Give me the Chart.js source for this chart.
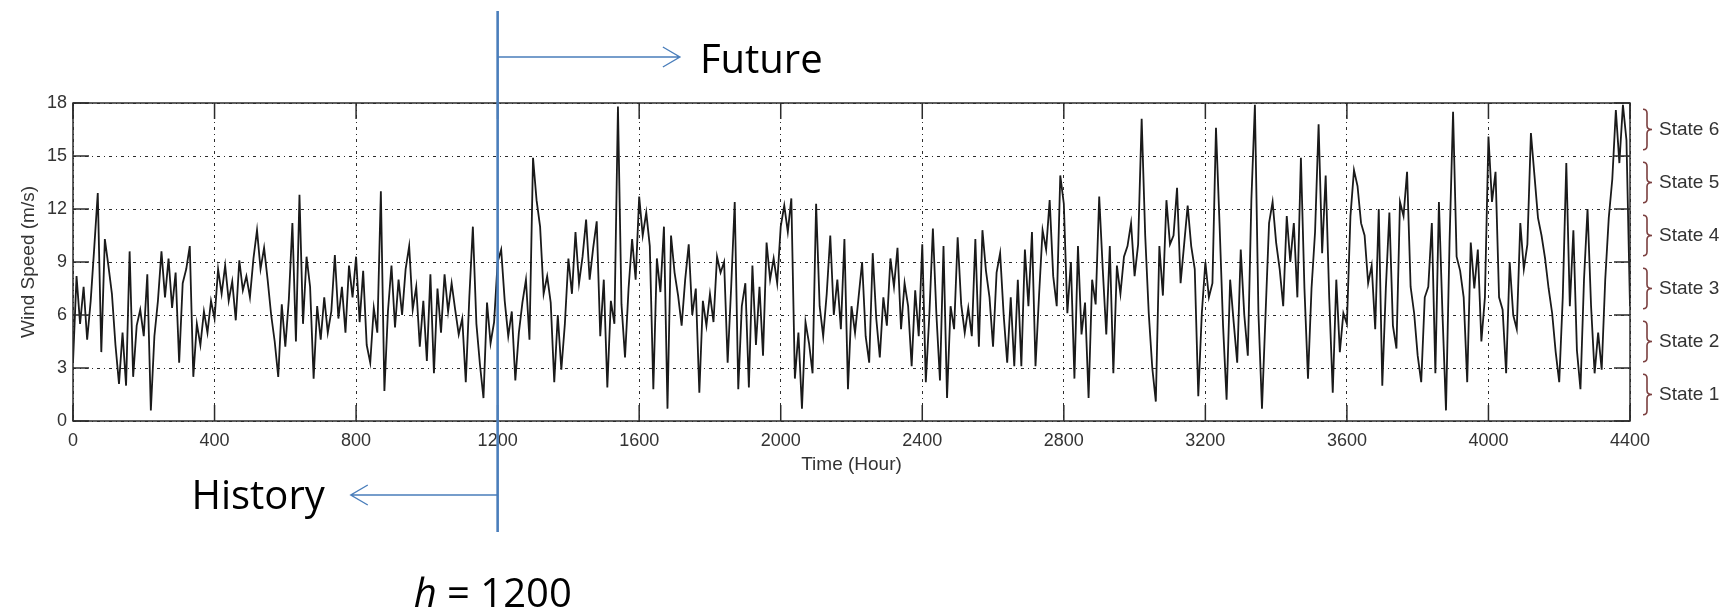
<!DOCTYPE html>
<html>
<head>
<meta charset="utf-8">
<script src="https://cdn.jsdelivr.net/npm/chart.js@4.4.1/dist/chart.umd.min.js"></script>
<style>
	html, body { margin: 0; padding: 0; background: #fff; }
	canvas { display: block; }
</style>
</head>
<body>
<canvas id="chart" width="1735" height="610"></canvas>
<script>
// hourly wind speed, every 10 hours
const sampleStep = 10;

const speedA = [ // 0 - 1090 h
	3.3, 8.2, 5.5, 7.6, 4.6, 6.8, 9.8, 12.9, 3.9, 10.3,
	8.8, 7.2, 4.3, 2.1, 5.0, 2.0, 9.6, 2.5, 5.4, 6.3,
	4.8, 8.3, 0.6, 4.8, 6.8, 9.6, 7.0, 9.2, 6.4, 8.4,
	3.3, 7.8, 8.6, 9.9, 2.5, 5.5, 4.3, 6.2, 5.0, 6.8,
	5.8, 8.6, 7.2, 8.8, 6.8, 7.9, 5.7, 9.1, 7.4, 8.2,
	7.0, 9.2, 10.8, 8.6, 9.8, 8.0, 6.0, 4.5, 2.5, 6.6,
	4.2, 6.9, 11.2, 4.5, 12.8, 5.5, 9.3, 7.6, 2.4, 6.5,
	4.6, 7.0, 5.0, 6.2, 9.4, 5.8, 7.6, 5.0, 8.8, 7.0,
	9.3, 5.6, 8.5, 4.3, 3.3, 6.4, 5.0, 13.0, 1.7, 6.2,
	8.8, 5.3, 8.0, 6.0, 8.6, 9.9, 6.3, 7.6, 4.2, 6.8,
	3.4, 8.3, 2.7, 7.5, 5.0, 8.3, 6.2, 7.8, 6.3, 4.9,
];

const speedB = [ // 1100 - 2190 h
	5.8, 2.2, 7.0, 11.0, 5.5, 3.2, 1.3, 6.7, 4.4, 5.6,
	9.0, 9.7, 6.8, 4.8, 6.2, 2.3, 5.0, 6.7, 8.0, 4.6,
	14.9, 12.5, 11.0, 7.2, 8.2, 6.7, 2.2, 6.0, 2.9, 5.5,
	9.2, 7.2, 10.7, 7.8, 9.3, 11.4, 8.0, 9.8, 11.3, 4.8,
	8.0, 1.9, 6.8, 5.5, 17.8, 6.6, 3.6, 7.5, 10.3, 8.0,
	12.7, 10.5, 11.8, 9.9, 1.8, 9.2, 7.3, 11.0, 0.7, 10.5,
	8.4, 7.1, 5.4, 8.0, 10.0, 6.0, 7.5, 1.6, 6.8, 5.4,
	7.2, 5.6, 9.3, 8.4, 9.0, 3.3, 7.6, 12.4, 1.8, 6.5,
	7.8, 1.9, 8.8, 4.3, 7.6, 3.7, 10.1, 8.0, 9.2, 7.8,
	11.0, 12.2, 10.7, 12.6, 2.4, 5.0, 0.7, 5.6, 4.4, 2.7,
	12.3, 6.5, 4.8, 7.2, 10.5, 6.0, 8.0, 5.2, 10.3, 1.8,
];

const speedC = [ // 2200 - 3290 h
	6.5, 5.0, 7.0, 9.0, 4.8, 3.3, 9.5, 5.8, 3.6, 7.0,
	5.4, 9.2, 7.6, 9.8, 5.2, 7.8, 6.5, 3.1, 7.4, 4.8,
	10.0, 2.2, 6.0, 10.9, 6.0, 2.3, 9.9, 1.3, 6.5, 5.2,
	10.4, 6.6, 5.0, 6.4, 4.8, 10.3, 4.2, 10.8, 8.5, 7.0,
	4.2, 8.4, 9.5, 6.0, 3.3, 7.0, 3.1, 8.0, 3.1, 9.7,
	6.5, 10.7, 3.1, 7.1, 10.8, 9.7, 12.5, 8.2, 6.5, 13.9,
	12.3, 6.1, 9.0, 2.4, 9.9, 4.9, 6.7, 1.3, 8.0, 6.6,
	12.7, 8.6, 4.9, 9.9, 2.7, 8.8, 7.2, 9.3, 9.9, 11.2,
	8.2, 10.0, 17.1, 10.5, 6.1, 3.0, 1.1, 9.9, 7.1, 12.5,
	10.0, 10.5, 13.2, 7.8, 10.0, 12.2, 9.9, 8.6, 1.4, 6.1,
	9.0, 7.0, 7.8, 16.6, 11.2, 5.4, 1.2, 8.0, 5.6, 3.3,
];

const speedD = [ // 3300 - 4400 h
	9.7, 6.0, 3.7, 12.5, 17.9, 6.1, 0.7, 6.0, 11.2, 12.4,
	10.1, 8.6, 6.5, 11.6, 9.0, 11.2, 7.0, 14.9, 7.5, 2.4,
	7.5, 10.7, 16.8, 9.5, 13.9, 7.0, 1.6, 8.0, 3.9, 6.1,
	5.5, 11.6, 14.2, 13.3, 11.2, 10.5, 7.8, 8.8, 5.2, 12.0,
	2.0, 7.5, 11.8, 5.4, 4.1, 12.4, 11.6, 14.1, 7.6, 6.1,
	3.7, 2.2, 7.0, 7.6, 11.2, 2.7, 12.4, 6.1, 0.6, 10.1,
	17.5, 9.3, 8.5, 7.0, 2.2, 10.1, 7.5, 9.7, 4.5, 7.0,
	16.1, 12.4, 14.1, 7.0, 6.3, 2.7, 9.0, 6.0, 5.2, 11.2,
	8.6, 10.0, 16.3, 13.9, 11.5, 10.5, 9.2, 7.5, 6.1, 3.9,
	2.2, 7.0, 14.6, 6.5, 10.8, 4.0, 1.8, 8.0, 12.0, 6.5,
	2.7, 5.0, 2.9, 8.0, 11.5, 13.7, 17.6, 14.6, 17.9, 15.9,
	6.5,
];

const xTicks = [0, 400, 800, 1200, 1600, 2000, 2400, 2800, 3200, 3600, 4000, 4400];
const yTicks = [0, 3, 6, 9, 12, 15, 18];
const stateLabels = ['State 1', 'State 2', 'State 3', 'State 4', 'State 5', 'State 6'];

const splitHour = 1200;
const futureArrowEnd = 1715;
const historyArrowEnd = 785;

const tickLen = 16;
const blue = '#4a7ebb';
const braceColor = '#7b3f3f';
const labelColor = '#333';

function getPoints() {
	const speeds = [...speedA, ...speedB, ...speedC, ...speedD];
	return speeds.map((speed, index) => ({ x: index * sampleStep, y: speed }));
}

const matlabFrame = {
	id: 'matlabFrame',
	afterDatasetsDraw(chart) {
		const { ctx, chartArea: area, scales } = chart;
		ctx.save();
		ctx.strokeStyle = '#2b2b2b';
		ctx.lineWidth = 1.5;
		ctx.strokeRect(area.left, area.top, area.right - area.left, area.bottom - area.top);

		ctx.beginPath();
		for (const value of xTicks) {
			const px = scales.x.getPixelForValue(value);
			ctx.moveTo(px, area.bottom);
			ctx.lineTo(px, area.bottom - tickLen);
			ctx.moveTo(px, area.top);
			ctx.lineTo(px, area.top + tickLen);
		}
		for (const value of yTicks) {
			const py = scales.y.getPixelForValue(value);
			ctx.moveTo(area.left, py);
			ctx.lineTo(area.left + tickLen, py);
			ctx.moveTo(area.right, py);
			ctx.lineTo(area.right - tickLen, py);
		}
		ctx.stroke();
		ctx.restore();
	},
};

function drawArrow(ctx, fromX, toX, y) {
	const dir = Math.sign(toX - fromX);
	ctx.beginPath();
	ctx.moveTo(fromX, y);
	ctx.lineTo(toX, y);
	ctx.moveTo(toX - dir * 17, y - 10);
	ctx.lineTo(toX, y);
	ctx.lineTo(toX - dir * 17, y + 10);
	ctx.stroke();
}

function drawBrace(ctx, x, top, bottom) {
	const mid = (top + bottom) / 2;
	const bend = 4;
	ctx.beginPath();
	ctx.moveTo(x, top);
	ctx.quadraticCurveTo(x + bend, top, x + bend, top + bend);
	ctx.lineTo(x + bend, mid - bend);
	ctx.quadraticCurveTo(x + bend, mid, x + 2 * bend + 1, mid);
	ctx.quadraticCurveTo(x + bend, mid, x + bend, mid + bend);
	ctx.lineTo(x + bend, bottom - bend);
	ctx.quadraticCurveTo(x + bend, bottom, x, bottom);
	ctx.stroke();
}

const annotations = {
	id: 'annotations',
	afterDraw(chart) {
		const { ctx, chartArea: area, scales } = chart;
		const hx = scales.x.getPixelForValue(splitHour);
		ctx.save();

		// split marker
		ctx.strokeStyle = blue;
		ctx.lineWidth = 2.6;
		ctx.beginPath();
		ctx.moveTo(hx, area.top - 92);
		ctx.lineTo(hx, area.bottom + 111);
		ctx.stroke();

		ctx.lineWidth = 1.4;
		drawArrow(ctx, hx, scales.x.getPixelForValue(futureArrowEnd), area.top - 46);
		drawArrow(ctx, hx, scales.x.getPixelForValue(historyArrowEnd), area.bottom + 74);

		ctx.fillStyle = '#000';
		ctx.textBaseline = 'alphabetic';
		ctx.font = '40px "Open Sans"';
		ctx.textAlign = 'left';
		ctx.fillText('Future', scales.x.getPixelForValue(futureArrowEnd) + 20, area.top - 30);
		ctx.textAlign = 'right';
		ctx.fillText('History', scales.x.getPixelForValue(historyArrowEnd) - 26, area.bottom + 88);

		ctx.textAlign = 'left';
		ctx.font = 'italic 40px "Open Sans"';
		const hLabel = 'h';
		const hStart = hx - 84;
		ctx.fillText(hLabel, hStart, area.bottom + 186);
		const hWidth = ctx.measureText(hLabel).width;
		ctx.font = '40px "Open Sans"';
		ctx.fillText(' = ' + splitHour, hStart + hWidth, area.bottom + 186);

		// state bands on the right
		ctx.strokeStyle = braceColor;
		ctx.lineWidth = 1.6;
		ctx.fillStyle = labelColor;
		ctx.font = '19px "Liberation Sans"';
		ctx.textBaseline = 'middle';
		stateLabels.forEach((label, index) => {
			const low = yTicks[index];
			const high = yTicks[index + 1];
			const top = scales.y.getPixelForValue(high - 0.35);
			const bottom = scales.y.getPixelForValue(low + 0.35);
			drawBrace(ctx, area.right + 13, top, bottom);
			ctx.fillText(label, area.right + 29, scales.y.getPixelForValue((low + high) / 2));
		});

		ctx.restore();
	},
};

function getChartOptions() {
	const gridStyle = {
		color: '#2b2b2b',
		lineWidth: 1,
		drawTicks: false,
	};

	return {
		responsive: false,
		animation: false,
		devicePixelRatio: 1,
		layout: {
			padding: { top: 103, right: 105, bottom: 129, left: 0 },
		},
		plugins: {
			legend: { display: false },
			tooltip: { enabled: false },
		},
		scales: {
			x: {
				type: 'linear',
				min: 0,
				max: 4400,
				afterBuildTicks: (scale) => {
					scale.ticks = xTicks.map((value) => ({ value }));
				},
				afterFit: (scale) => {
					scale.height = 60;
				},
				grid: gridStyle,
				border: { display: false, dash: [3, 4, 1, 4] },
				ticks: {
					color: labelColor,
					font: { size: 18 },
					padding: 9,
					maxRotation: 0,
					autoSkip: false,
					callback: (value) => String(value),
				},
				title: {
					display: true,
					text: 'Time (Hour)',
					color: labelColor,
					font: { size: 19 },
					padding: { top: 0, bottom: 5 },
				},
			},
			y: {
				min: 0,
				max: 18,
				afterBuildTicks: (scale) => {
					scale.ticks = yTicks.map((value) => ({ value }));
				},
				afterFit: (scale) => {
					scale.width = 73;
				},
				grid: gridStyle,
				border: { display: false, dash: [3, 4, 1, 4] },
				ticks: {
					color: labelColor,
					font: { size: 18 },
					padding: 6,
					callback: (value) => String(value),
				},
				title: {
					display: true,
					text: 'Wind Speed (m/s)',
					color: labelColor,
					font: { size: 19 },
					padding: { top: 17, bottom: 0 },
				},
			},
		},
	};
}

async function init() {
	await document.fonts.load('40px "Open Sans"');
	await document.fonts.load('italic 40px "Open Sans"');

	Chart.defaults.font.family = '"Liberation Sans", Arial, sans-serif';

	new Chart(document.getElementById('chart'), {
		type: 'line',
		data: {
			datasets: [{
				data: getPoints(),
				borderColor: '#1a1a1a',
				borderWidth: 1.8,
				pointRadius: 0,
				tension: 0,
			}],
		},
		options: getChartOptions(),
		plugins: [matlabFrame, annotations],
	});
}

init();
</script>
</body>
</html>
